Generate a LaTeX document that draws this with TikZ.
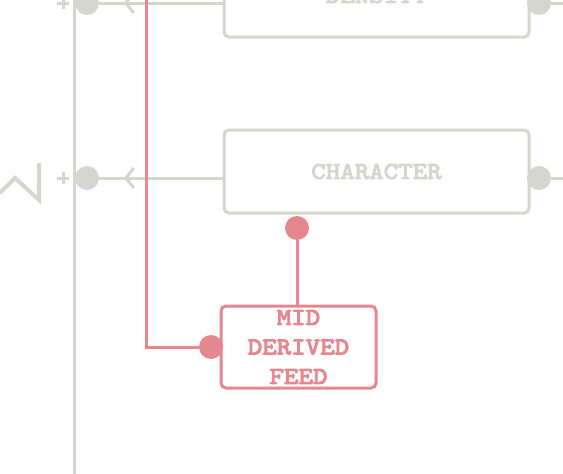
\documentclass[tikz,border=0pt]{standalone}
\usepackage{fontspec}
\newfontfamily\erfont{lmmono10-regular.otf}[FakeBold=4,FakeStretch=1.15]
\usetikzlibrary{arrows.meta,decorations.markings}

\definecolor{erGray}{HTML}{D6D6D1}
\definecolor{erRed}{HTML}{E5878F}

\tikzset{
  entity/.style={rectangle,rounded corners=5pt,line width=3pt,fill=white,
    minimum width=305pt,minimum height=83pt,inner sep=0pt,align=center,
    font=\erfont\fontsize{24}{29.5}\selectfont},
  dot/.style={circle,minimum size=24pt,inner sep=0pt},
  rel/.style={line width=3pt},
  barb/.style={postaction={decorate},decoration={markings,
    mark=at position #1 with {\arrow{Straight Barb[length=8pt,width=20pt,line width=3pt]}}}}
}

\begin{document}
\begin{tikzpicture}[x=1pt,y=-1pt]
\useasboundingbox (0,0) rectangle (563,474);

\node [entity,draw=erGray,text=erGray] (density) at (376.5,-4.5) {DENSITY};
\node [entity,draw=erGray,text=erGray] (character) at (376.5,171.5) {CHARACTER};
\node [entity,draw=erRed,text=erRed,minimum width=155pt,minimum height=82pt] (feed) at (298.5,347) {MID\\DERIVED\\FEED};

\node [dot,fill=erGray] (g1) at (87,3) {};
\node [dot,fill=erGray] (g2) at (87,178) {};
\node [dot,fill=erGray] (g3) at (539,3) {};
\node [dot,fill=erGray] (g4) at (539,178) {};
\node [dot,fill=erRed] (r1) at (211,347) {};
\node [dot,fill=erRed] (r2) at (297,228) {};

\coordinate (railtop) at (74,-10);
\coordinate (railbot) at (74,480);
\coordinate (g3out) at (570,3);
\coordinate (g4out) at (570,178);
\coordinate (redtop) at (146,-10);

% left rail, one-marks and zigzag
\draw [rel,erGray] (railtop) -- (railbot);
\foreach \y in {3,178} {
  \draw [rel,erGray] (57,\y) -- (69,\y) (63,\y-6) -- (63,\y+6);
}
\draw [line width=4pt,erGray] (0,193) -- (15,178) -- (39,200) -- (39,163);

% gray relations
\draw [rel,erGray,barb=0.8] (density.west |- g1) -- (g1);
\draw [rel,erGray,barb=0.8] (character.west |- g2) -- (g2);
\draw [rel,erGray] (g3) -- (g3out);
\draw [rel,erGray] (g4) -- (g4out);

% red relations
\draw [rel,erRed] (redtop) |- (r1);
\draw [rel,erRed] (r2) -- (r2 |- feed.north);

\end{tikzpicture}
\end{document}
